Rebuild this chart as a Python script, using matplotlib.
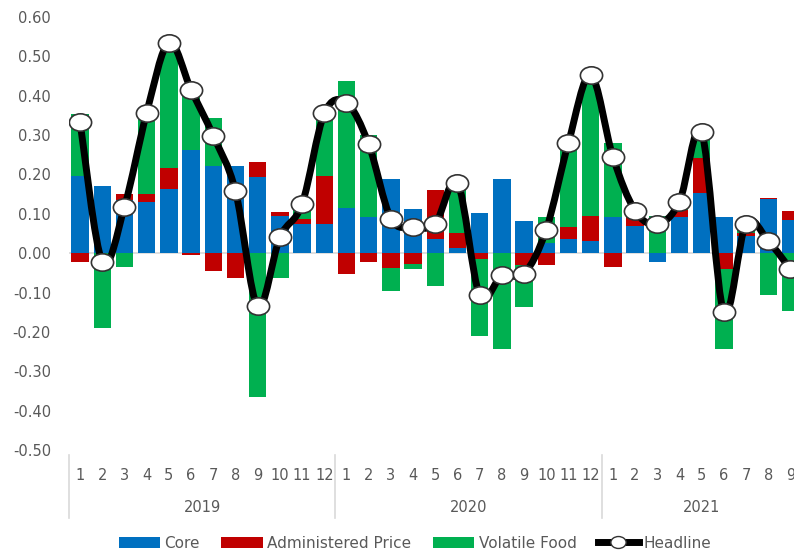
import matplotlib
matplotlib.use("Agg")
import matplotlib.pyplot as plt
import numpy as np
from matplotlib.path import Path
from matplotlib.patches import PathPatch, Patch
from matplotlib.lines import Line2D
import matplotlib.transforms as mtransforms

# Monthly contributions to inflation (percentage points)
years = ["2019", "2020", "2021"]
months_per_year = [12, 12, 9]
month_labels = [str(m) for n in months_per_year for m in range(1, n + 1)]

core = [0.196, 0.170, 0.135, 0.129, 0.162, 0.262, 0.222, 0.221, 0.194, 0.095, 0.075, 0.075,
        0.116, 0.091, 0.188, 0.111, 0.037, 0.012, 0.103, 0.188, 0.082, 0.025, 0.035, 0.030,
        0.091, 0.070, -0.022, 0.091, 0.153, 0.091, 0.044, 0.137, 0.084]
administered = [-0.022, 0.000, 0.015, 0.021, 0.055, -0.005, -0.046, -0.063, 0.037, 0.009, 0.012, 0.120,
                -0.053, -0.022, -0.037, -0.028, 0.123, 0.040, -0.015, 0.000, -0.031, -0.030, 0.032, 0.064,
                -0.036, 0.021, 0.000, 0.018, 0.088, -0.039, 0.008, 0.003, 0.024]
volatile_food = [0.158, -0.190, -0.035, 0.205, 0.300, 0.158, 0.121, 0.000, -0.366, -0.062, 0.025, 0.160,
                 0.322, 0.210, -0.060, -0.013, -0.083, 0.127, -0.196, -0.243, -0.106, 0.066, 0.214, 0.359,
                 0.190, 0.017, 0.094, 0.022, 0.066, -0.204, 0.023, -0.107, -0.147]
headline = [0.332, -0.022, 0.118, 0.357, 0.535, 0.415, 0.298, 0.158, -0.135, 0.040, 0.125, 0.355,
            0.382, 0.277, 0.088, 0.067, 0.075, 0.179, -0.107, -0.056, -0.052, 0.060, 0.281, 0.453,
            0.245, 0.108, 0.073, 0.131, 0.307, -0.150, 0.075, 0.031, -0.041]

series = [("Core", core, "#0070C0"),
          ("Administered Price", administered, "#C00000"),
          ("Volatile Food", volatile_food, "#00B050")]

TXT = "#595959"
plt.rcParams["font.family"] = ["DejaVu Sans"]

fig = plt.figure(figsize=(7.94, 5.52), dpi=100)
ax = fig.add_axes([69 / 794, 102 / 552, 725 / 794, 433 / 552])

x = np.arange(len(month_labels))

# stacked bars: positives build upward, negatives downward
pos_base = np.zeros(len(x))
neg_base = np.zeros(len(x))
for name, vals, color in series:
    v = np.asarray(vals)
    bottom = np.where(v >= 0, pos_base, neg_base)
    ax.bar(x, v, bottom=bottom, width=0.78, color=color, edgecolor="none", zorder=2)
    pos_base = pos_base + np.where(v >= 0, v, 0)
    neg_base = neg_base + np.where(v < 0, v, 0)

# zero line
ax.axhline(0, color="#D9D9D9", lw=1.2, zorder=1)

# smoothed headline line (cubic Bezier through each point)
h = np.asarray(headline, dtype=float)
pts = np.column_stack([x, h])
verts = [tuple(pts[0])]
codes = [Path.MOVETO]
n = len(pts)
for i in range(n - 1):
    p0 = pts[i - 1] if i > 0 else pts[i]
    p1 = pts[i]
    p2 = pts[i + 1]
    p3 = pts[i + 2] if i + 2 < n else pts[i + 1]
    c1 = p1 + (p2 - p0) / 6.0
    c2 = p2 - (p3 - p1) / 6.0
    verts += [tuple(c1), tuple(c2), tuple(p2)]
    codes += [Path.CURVE4] * 3
ax.add_patch(PathPatch(Path(verts, codes), facecolor="none", edgecolor="black",
                       lw=5.0, capstyle="round", joinstyle="round", zorder=3))

# slightly wide oval marker
circ = Path.unit_circle()
oval = Path(circ.vertices * np.array([1.28, 1.0]), circ.codes)
ax.plot(x, h, linestyle="none", marker=oval, markersize=16, markerfacecolor="white",
        markeredgecolor="#333333", markeredgewidth=1.2, zorder=4)

ax.set_xlim(-0.5, 32.16)
ax.set_ylim(-0.5, 0.6)
yt = np.round(np.arange(-0.5, 0.61, 0.1), 2)
ax.set_yticks(yt)
ax.set_yticklabels([f"{v:.2f}" if v != 0 else "0.00" for v in yt])
ax.tick_params(axis="y", length=0, labelsize=10.5, labelcolor=TXT, pad=13)

ax.set_xticks(x)
ax.set_xticklabels(month_labels)
ax.tick_params(axis="x", length=0, labelsize=10.5, labelcolor=TXT, pad=13)

for s in ax.spines.values():
    s.set_visible(False)

# year labels and separators beneath the month labels
trans = mtransforms.blended_transform_factory(ax.transData, ax.transAxes)
start = 0
edges = [-0.5]
for yr, nm in zip(years, months_per_year):
    center = start + (nm - 1) / 2
    ax.text(center, -58 / 433, yr, transform=trans, ha="center", va="center",
            fontsize=10.5, color=TXT)
    start += nm
    edges.append(start - 0.5)
for e in edges[:-1]:
    ax.add_line(Line2D([e, e], [-5 / 433, -68 / 433], transform=trans, color="#D9D9D9",
                       lw=1.2, clip_on=False))

handles = [Patch(facecolor=c, edgecolor="none") for _, _, c in series]
handles.append(Line2D([], [], color="black", lw=5, marker=oval, markersize=11,
                      markerfacecolor="white", markeredgecolor="#333333"))
labels = [s[0] for s in series] + ["Headline"]
fig.legend(handles, labels, loc="center", bbox_to_anchor=(415 / 794, 9 / 552), ncol=4,
           frameon=False, fontsize=11, labelcolor=TXT, handlelength=2.7,
           handletextpad=0.3, columnspacing=1.4)

fig.savefig("out.png", dpi=100)
